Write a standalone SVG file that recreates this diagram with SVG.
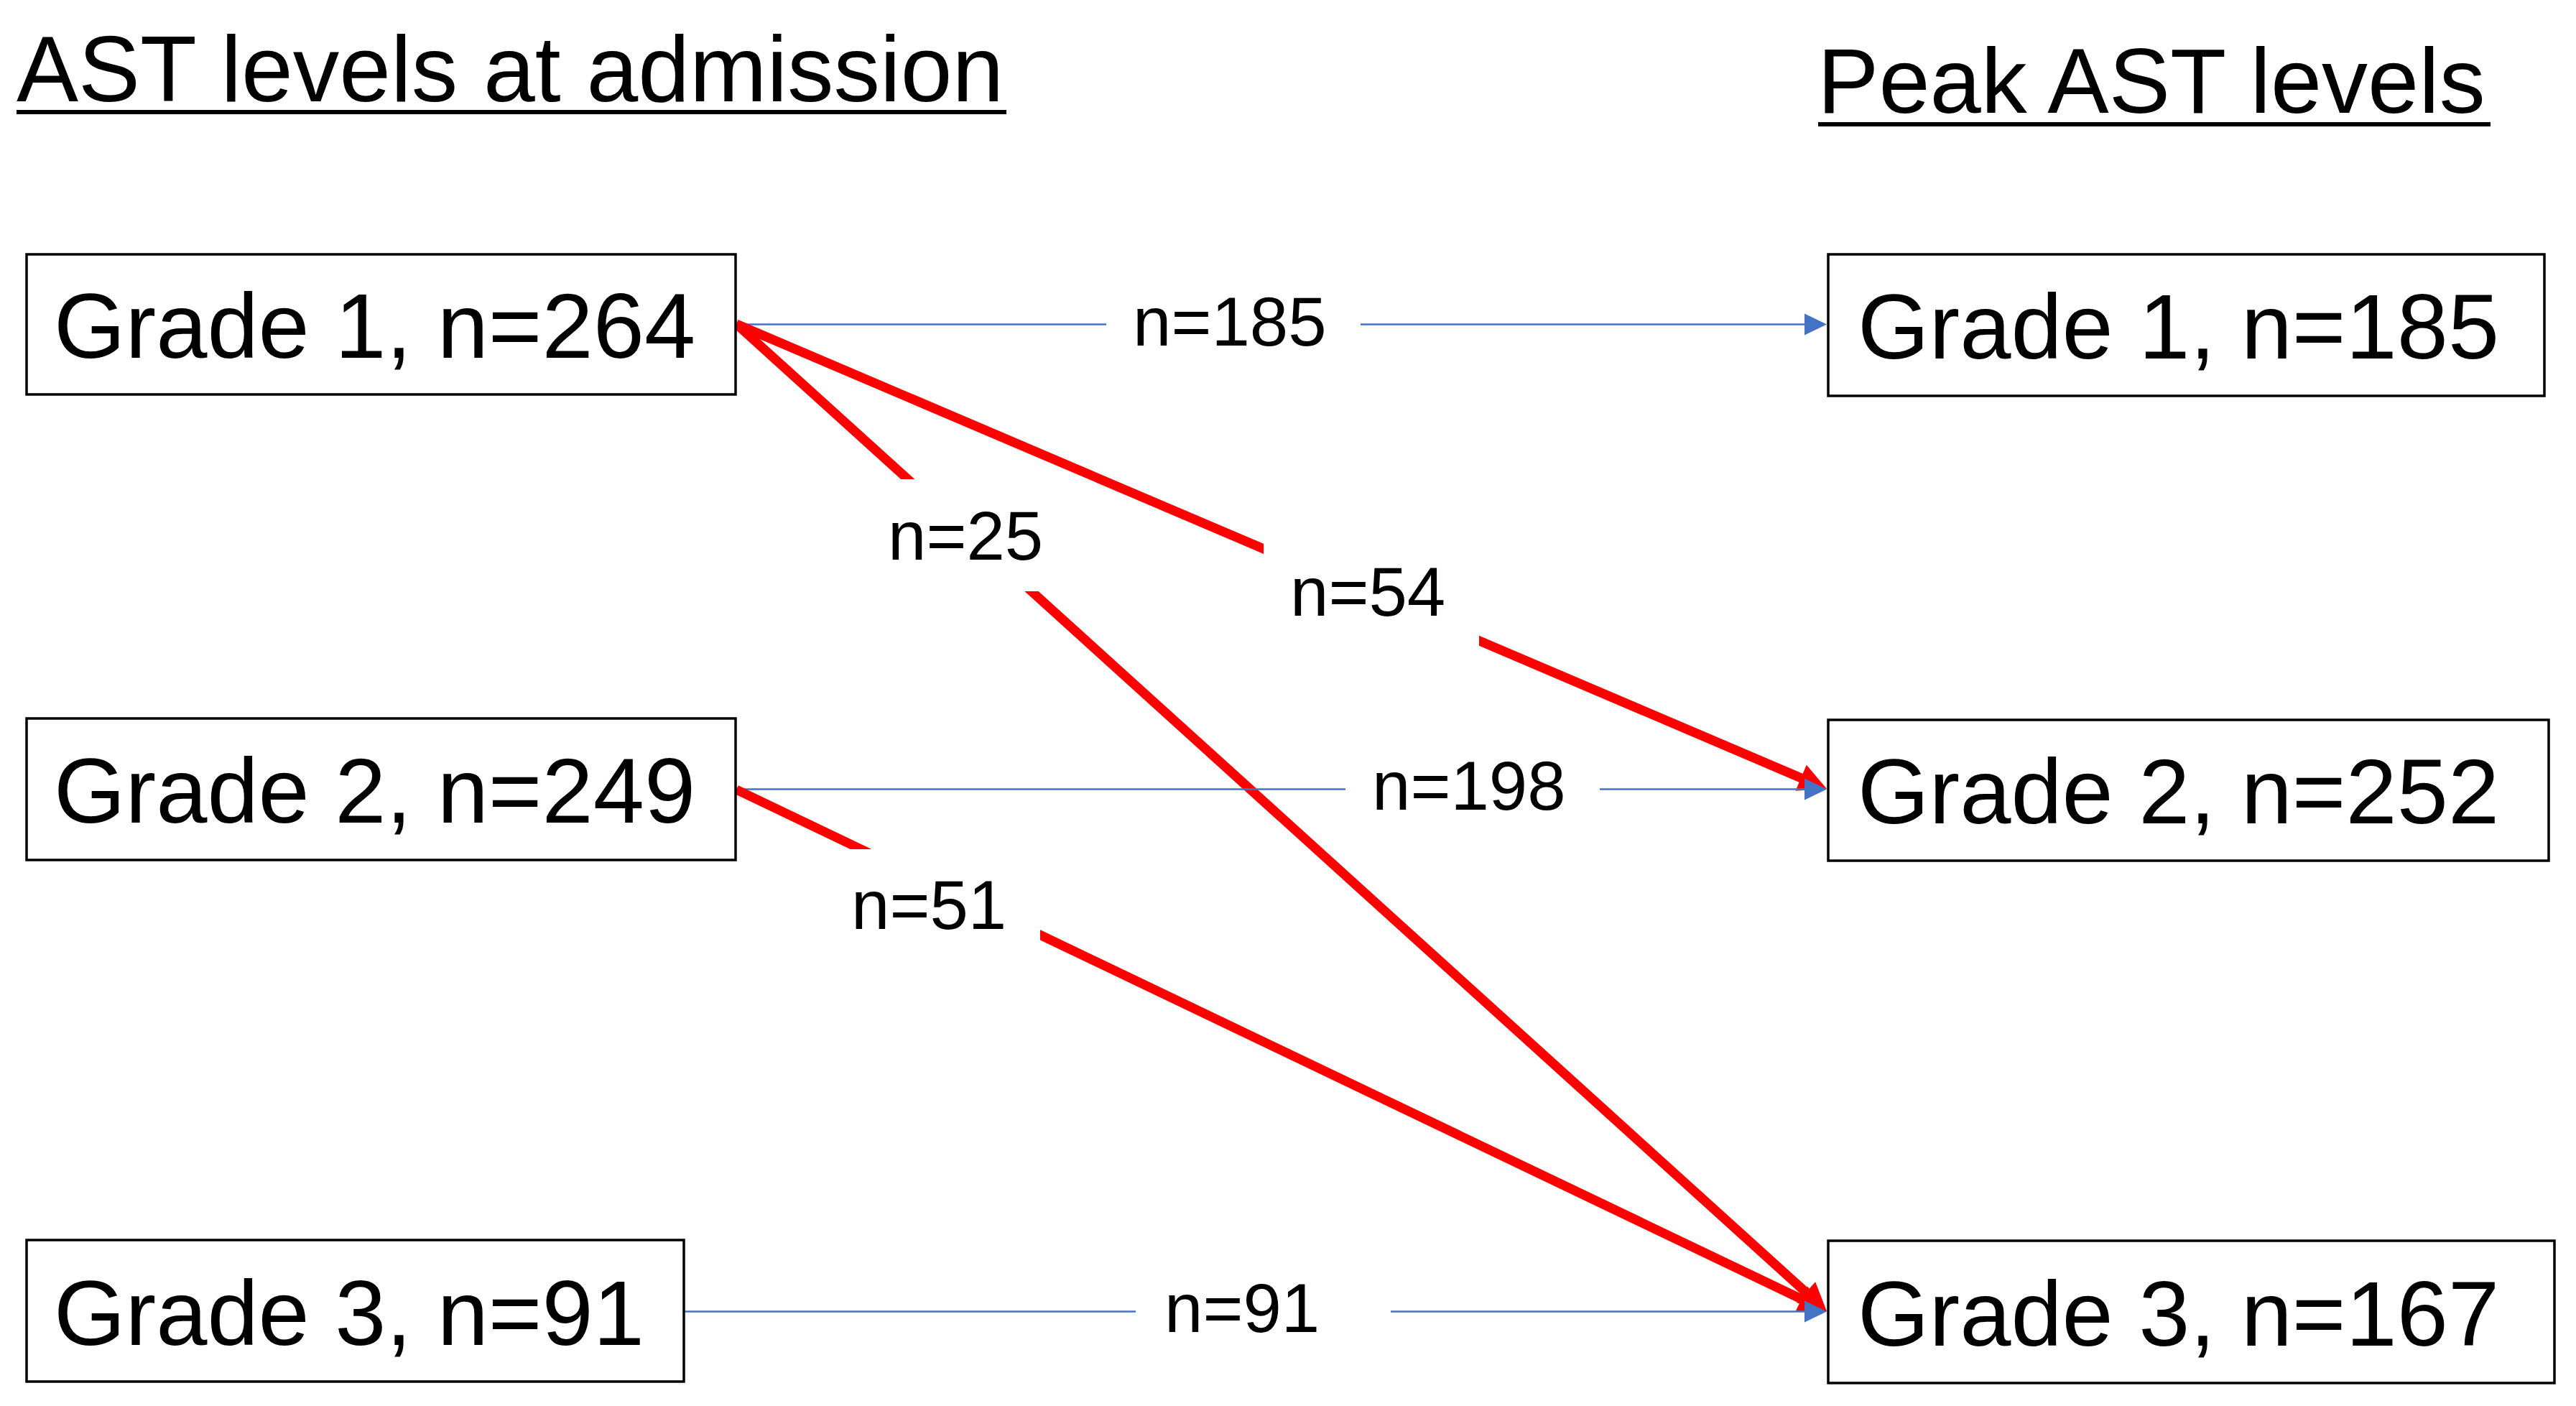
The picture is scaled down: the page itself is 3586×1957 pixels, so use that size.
<svg xmlns="http://www.w3.org/2000/svg" width="3586" height="1957" viewBox="0 0 3586 1957">
<style>
text{font-family:"Liberation Sans",Arial,sans-serif;fill:#000}
.title{font-size:129px}
.node rect{fill:#fff;stroke:#000;stroke-width:3.5}
.node text{font-size:128px}
.blue{stroke:#4472C4;stroke-width:2.5;fill:none;marker-end:url(#ab)}
.red{stroke:#FF0000;stroke-width:13;fill:none;marker-end:url(#ar)}
.lbl rect{fill:#fff;stroke:none}
.lbl text{font-size:96px}
</style>
<defs>
<marker id="ab" markerUnits="userSpaceOnUse" markerWidth="31" markerHeight="30" refX="21" refY="15" orient="auto" overflow="visible">
<path d="M0,0 L31,15 L0,30 z" fill="#4472C4"/>
</marker>
<marker id="ar" markerUnits="strokeWidth" markerWidth="3" markerHeight="3" refX="1.5" refY="1.5" orient="auto" overflow="visible">
<path d="M0,0 L3,1.5 L0,3 z" fill="#FF0000"/>
</marker>
</defs>
<rect width="3586" height="1957" fill="#fff"/>
<g id="titles">
<text class="title" x="23" y="141">AST levels at admission</text>
<rect x="23" y="153" width="1378" height="6" fill="#000"/>
<text class="title" x="2530" y="157" style="font-size:128px">Peak AST levels</text>
<rect x="2531" y="170" width="936" height="6" fill="#000"/>
</g>
<g id="connectors">
<line class="blue" x1="1025" y1="451.5" x2="2533" y2="451.5"/>
<line class="red" x1="1025" y1="451" x2="2525.1" y2="1090.4"/>
<line class="red" x1="1025" y1="451" x2="2528.5" y2="1811.9"/>
<line class="blue" x1="1025" y1="1098.5" x2="2533" y2="1098.5"/>
<line class="red" x1="1025" y1="1099" x2="2525.4" y2="1816.6"/>
<line class="blue" x1="952" y1="1825.5" x2="2533" y2="1825.5"/>
<g class="lbl" id="lbl-185"><rect x="1540" y="368" width="354" height="157"/><text x="1577" y="481">n=185</text></g>
<g class="lbl" id="lbl-54"><rect x="1759" y="744" width="300" height="156"/><text x="1796" y="857">n=54</text></g>
<g class="lbl" id="lbl-25"><rect x="1199" y="667" width="300" height="156"/><text x="1236" y="779">n=25</text></g>
<g class="lbl" id="lbl-198"><rect x="1873" y="1014" width="354" height="157"/><text x="1910" y="1127">n=198</text></g>
<g class="lbl" id="lbl-51"><rect x="1148" y="1182" width="300" height="156"/><text x="1185" y="1293">n=51</text></g>
<g class="lbl" id="lbl-91"><rect x="1581" y="1741" width="355" height="156"/><text x="1621" y="1854">n=91</text></g>
</g>
<g id="adm-g1" class="node"><rect x="37" y="354" width="987" height="195"/><text x="75" y="498">Grade 1, n=264</text></g>
<g id="adm-g2" class="node"><rect x="37" y="1000" width="987" height="197"/><text x="75" y="1145">Grade 2, n=249</text></g>
<g id="adm-g3" class="node"><rect x="37" y="1726" width="915" height="197"/><text x="75" y="1872">Grade 3, n=91</text></g>
<g id="peak-g1" class="node"><rect x="2545" y="354" width="997" height="197"/><text x="2586" y="499">Grade 1, n=185</text></g>
<g id="peak-g2" class="node"><rect x="2545" y="1002" width="1003" height="196"/><text x="2586" y="1146">Grade 2, n=252</text></g>
<g id="peak-g3" class="node"><rect x="2545" y="1727" width="1011" height="198"/><text x="2586" y="1873">Grade 3, n=167</text></g>
</svg>
